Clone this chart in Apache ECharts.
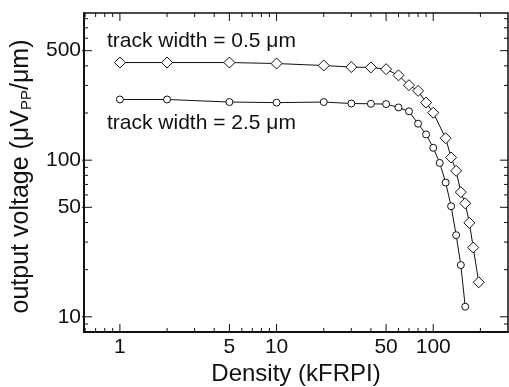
<!DOCTYPE html>
<html>
<head>
<meta charset="utf-8">
<script src="https://cdn.jsdelivr.net/npm/echarts@6/dist/echarts.min.js"></script>
<style>
  html, body { margin: 0; padding: 0; background: #fff; }
  #chart { width: 509px; height: 387px; }
</style>
</head>
<body>
<div id="chart"></div>
<script>
// Output voltage vs. recording density for two track widths
const density05 = [1, 2, 5, 10, 20, 30, 40, 50, 60, 70, 80, 90, 100, 120, 130, 140, 150, 160, 170, 180, 195];
const voltage05 = [420, 420, 420, 414, 402, 393, 391, 381, 348, 301, 277, 233, 201, 138, 104, 85.5, 62.5, 53, 39.8, 27.7, 16.6];

const density25 = [1, 2, 5, 10, 20, 30, 40, 50, 60, 70, 80, 90, 100, 110, 120, 130, 140, 150, 160];
const voltage25 = [244, 244, 235, 233, 235, 230, 229, 228, 217, 205, 171, 146, 120, 96, 72, 50.8, 33.2, 21.4, 11.6];

// axis ticks and labels
const xMajorTicks = [1, 5, 10, 50, 100];
const xMinorTicks = [0.6, 0.7, 0.8, 0.9, 2, 3, 4, 6, 7, 8, 9, 20, 30, 40, 60, 70, 80, 90, 200];
const yMajorTicks = [10, 50, 100, 500];
const yMinorTicks = [9, 20, 30, 40, 60, 70, 80, 90, 200, 300, 400, 600, 700, 800];

const X_MIN = 0.59, X_MAX = 300;
const Y_MIN = 8, Y_MAX = 870;

const FONT = '"Liberation Sans", Arial, Helvetica, sans-serif';
const INK = '#111';
const LABEL_SIZE = 21;

const chart = echarts.init(document.getElementById('chart'), null, { renderer: 'canvas' });

function zip(xs, ys) { return xs.map((x, i) => [x, ys[i]]); }

function tickItems(major, minor) {
  return major.map(v => [v, 1]).concat(minor.map(v => [v, 0]));
}

// x ticks on bottom and top edges, inward; labels under the major ones
function renderXTicks(params, api) {
  const v = api.value(0);
  const major = api.value(2) === 1;
  const len = major ? 8 : 4;
  const b = api.coord([v, Y_MIN]);
  const t = api.coord([v, Y_MAX]);
  const children = [
    { type: 'line', shape: { x1: b[0], y1: b[1], x2: b[0], y2: b[1] - len }, style: { stroke: INK, lineWidth: 1 } },
    { type: 'line', shape: { x1: t[0], y1: t[1], x2: t[0], y2: t[1] + len }, style: { stroke: INK, lineWidth: 1 } }
  ];
  if (major) {
    children.push({
      type: 'text', x: b[0], y: b[1] + 5,
      style: { text: String(v), fill: INK, fontSize: LABEL_SIZE, fontFamily: FONT, align: 'center', verticalAlign: 'top' }
    });
  }
  return { type: 'group', children };
}

// y ticks on left and right edges, inward; labels left of the major ones
function renderYTicks(params, api) {
  const v = api.value(1);
  const major = api.value(2) === 1;
  const len = major ? 8 : 4;
  const l = api.coord([X_MIN, v]);
  const r = api.coord([X_MAX, v]);
  const children = [
    { type: 'line', shape: { x1: l[0] - (major ? 2 : 0), y1: l[1], x2: l[0] + len, y2: l[1] }, style: { stroke: INK, lineWidth: 1 } },
    { type: 'line', shape: { x1: r[0], y1: r[1], x2: r[0] - len, y2: r[1] }, style: { stroke: INK, lineWidth: 1 } }
  ];
  if (major) {
    children.push({
      type: 'text', x: l[0] - 3, y: l[1],
      style: { text: String(v), fill: INK, fontSize: LABEL_SIZE, fontFamily: FONT, align: 'right', verticalAlign: 'middle' }
    });
  }
  return { type: 'group', children };
}

const option = {
  animation: false,
  backgroundColor: '#fff',
  grid: {
    left: 84, right: 1, top: 13, bottom: 55,
    outerBoundsMode: 'none', containLabel: false,
    show: true, borderColor: INK, borderWidth: 1.5, backgroundColor: 'transparent'
  },
  xAxis: {
    type: 'log', logBase: 10, min: X_MIN, max: X_MAX,
    name: 'Density (kFRPI)', nameLocation: 'middle', nameGap: 30,
    nameTextStyle: { color: INK, fontSize: 24, fontFamily: FONT },
    axisLine: { show: true, lineStyle: { color: INK, width: 2 } },
    axisTick: { show: false }, axisLabel: { show: false }, splitLine: { show: false }
  },
  yAxis: {
    type: 'log', logBase: 10, min: Y_MIN, max: Y_MAX,
    name: 'output voltage (μV{sub|PP}/μm)', nameLocation: 'middle', nameGap: 50, nameRotate: 90,
    nameTextStyle: {
      color: INK, fontSize: 25, fontFamily: FONT, padding: [0, 8, 0, 0],
      rich: { sub: { fontSize: 15, fontFamily: FONT, color: INK, verticalAlign: 'bottom', padding: [9, 0, 0, 0] } }
    },
    axisLine: { show: true, lineStyle: { color: INK, width: 2 } },
    axisTick: { show: false }, axisLabel: { show: false }, splitLine: { show: false }
  },
  graphic: [
    { type: 'text', left: 107, top: 31, style: { text: 'track width = 0.5 μm', fill: INK, fontSize: 21, fontFamily: FONT } },
    { type: 'text', left: 107, top: 113, style: { text: 'track width = 2.5 μm', fill: INK, fontSize: 21, fontFamily: FONT } }
  ],
  series: [
    {
      type: 'line', name: '0.5 um', data: zip(density05, voltage05),
      symbol: 'diamond', symbolSize: [11, 11], showAllSymbol: true,
      lineStyle: { color: INK, width: 1 },
      itemStyle: { color: '#fff', borderColor: INK, borderWidth: 1 },
      z: 3
    },
    {
      type: 'line', name: '2.5 um', data: zip(density25, voltage25),
      symbol: 'circle', symbolSize: 7, showAllSymbol: true,
      lineStyle: { color: INK, width: 1 },
      itemStyle: { color: '#fff', borderColor: INK, borderWidth: 1 },
      z: 3
    },
    {
      type: 'custom', renderItem: renderXTicks, silent: true, clip: false,
      data: tickItems(xMajorTicks, xMinorTicks).map(d => [d[0], Y_MIN, d[1]]),
      encode: { x: 0, y: 1 }, z: 4
    },
    {
      type: 'custom', renderItem: renderYTicks, silent: true, clip: false,
      data: tickItems(yMajorTicks, yMinorTicks).map(d => [X_MIN, d[0], d[1]]),
      encode: { x: 0, y: 1 }, z: 4
    }
  ]
};

chart.setOption(option);
</script>
</body>
</html>
